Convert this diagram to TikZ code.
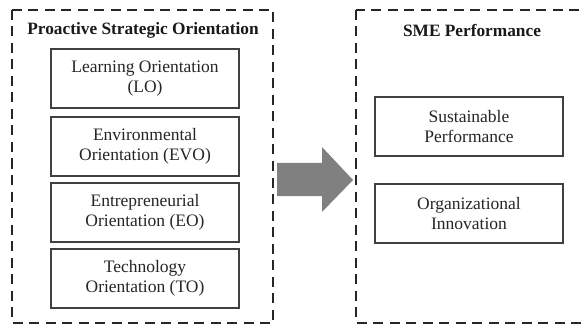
\documentclass[tikz,border=0pt]{standalone}
\usepackage{fontspec}
\setmainfont{Liberation Serif}
\begin{document}
\begin{tikzpicture}[x=1pt,y=-1pt,
  outerbox/.style={draw=black!85, line width=2pt, dash pattern=on 10pt off 6.5pt},
  itembox/.style={draw=black!75, line width=1.3pt, rectangle, minimum width=188pt, minimum height=59pt, align=center, font=\fontsize{17.5}{20.5}\selectfont, text=black!85, inner sep=0pt},
  titletext/.style={font=\fontsize{17.3}{20}\selectfont\bfseries, text=black!90, inner sep=0pt}]
\useasboundingbox (0,0) rectangle (581,326);
\fill[white] (0,0) rectangle (581,326);
\draw[outerbox] (12,10) rectangle (273,323);
\draw[outerbox] (356,10) rectangle (600,323);
\node[titletext] (t1) at (143,30) {Proactive Strategic Orientation};
\node[titletext] (t2) at (472,30) {SME Performance};
\node[itembox] (lo) at (145,78.5) {Learning Orientation\\(LO)};
\node[itembox] (evo) at (145,146.5) {Environmental\\Orientation (EVO)};
\node[itembox] (eo) at (145,212.5) {Entrepreneurial\\Orientation (EO)};
\node[itembox] (to) at (145,278.5) {Technology\\Orientation (TO)};
\node[itembox] (sp) at (469,126.5) {Sustainable\\Performance};
\node[itembox] (oi) at (469,213.5) {Organizational\\Innovation};
\fill[black!50] (277,163) -- (322,163) -- (322,147) -- (353,180) -- (322,212) -- (322,196) -- (277,196) -- cycle;
\end{tikzpicture}
\end{document}
